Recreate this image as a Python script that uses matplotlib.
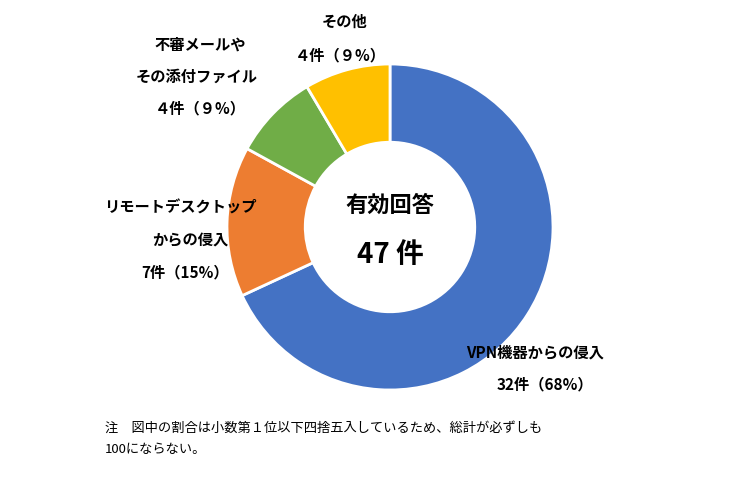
import matplotlib
matplotlib.use("Agg")
import matplotlib.pyplot as plt

plt.rcParams["font.family"] = "Noto Sans CJK JP"

# data
categories = ["VPN機器からの侵入", "リモートデスクトップからの侵入", "不審メールやその添付ファイル", "その他"]
counts = [32, 7, 4, 4]
colors = ["#4472C4", "#ED7D31", "#70AD47", "#FFC000"]
total = sum(counts)

W, H = 741, 479
fig = plt.figure(figsize=(W / 100, H / 100), dpi=100)

# donut centred at (390, 227) px, outer radius ~163 px
cx, cy, r = 390, 227, 163
ax = fig.add_axes([(cx - r) / W, (H - cy - r) / H, 2 * r / W, 2 * r / H])
ax.pie(counts, colors=colors, startangle=90, counterclock=False,
       wedgeprops=dict(width=0.48, edgecolor="white", linewidth=2))
ax.set_aspect("equal")
ax.set_xlim(-1, 1)
ax.set_ylim(-1, 1)

def txt(x, y, s, size=11, weight="bold", ha="center"):
    fig.text(x / W, 1 - y / H, s, fontsize=size, fontweight=weight, ha=ha, va="center")

# outer labels
txt(345, 22, "その他")
txt(340, 55, "４件（９%）")
txt(200, 45, "不審メールや")
txt(197, 77, "その添付ファイル")
txt(200, 108, "４件（９%）")
txt(180, 208, "リモートデスクトップ")
txt(190, 240, "からの侵入")
txt(185, 272, "7件（15%）")
txt(535, 352, "VPN機器からの侵入")
txt(545, 384, "32件（68%）")

# centre
txt(390, 205, "有効回答", size=16)
txt(390, 255, f"{total} 件", size=20)

# note
txt(105, 428, "注　図中の割合は小数第１位以下四捨五入しているため、総計が必ずしも", size=9.5, weight="normal", ha="left")
txt(105, 450, "100にならない。", size=9.5, weight="normal", ha="left")

fig.savefig("out.png", dpi=100)
